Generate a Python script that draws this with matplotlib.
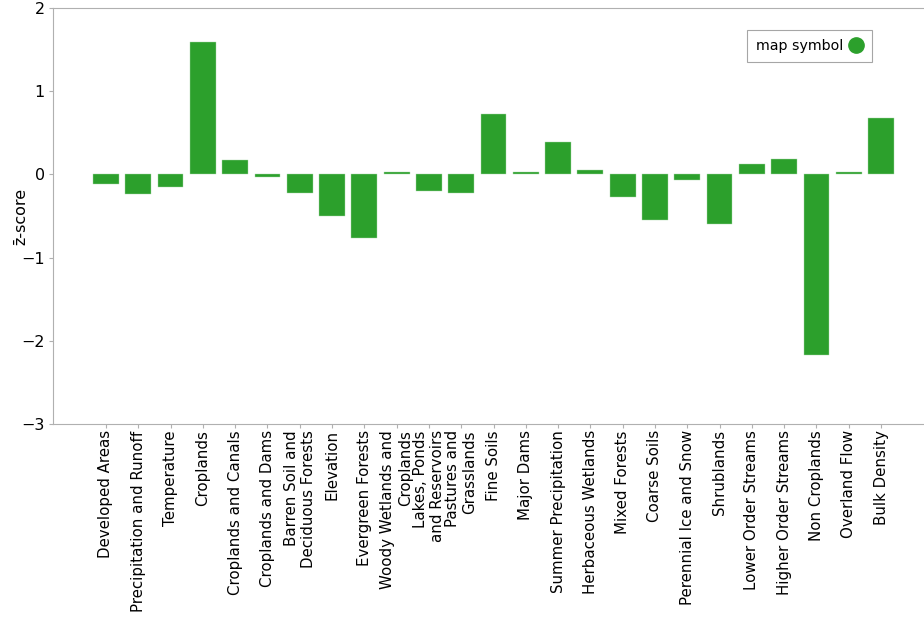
import numpy as np
import matplotlib
matplotlib.use("Agg")
import matplotlib.pyplot as plt
from matplotlib.lines import Line2D

labels = [
    "Developed Areas", "Precipitation and Runoff", "Temperature", "Croplands",
    "Croplands and Canals", "Croplands and Dams", "Barren Soil and\nDeciduous Forests",
    "Elevation", "Evergreen Forests", "Woody Wetlands and\nCroplands",
    "Lakes, Ponds\nand Reservoirs", "Pastures and\nGrasslands", "Fine Soils",
    "Major Dams", "Summer Precipitation", "Herbaceous Wetlands", "Mixed Forests",
    "Coarse Soils", "Perennial Ice and Snow", "Shrublands", "Lower Order Streams",
    "Higher Order Streams", "Non Croplands", "Overland Flow", "Bulk Density",
]
zscores = [
    -0.12, -0.23, -0.15, 1.59, 0.17, -0.03, -0.22, -0.50, -0.77, 0.025,
    -0.20, -0.22, 0.72, 0.025, 0.39, 0.05, -0.27, -0.55, -0.07, -0.60,
    0.12, 0.18, -2.17, 0.03, 0.68,
]

green = "#2ca02c"
spine_c = "#b0b0b0"

fig = plt.figure(figsize=(9.24, 6.17), dpi=100)
ax = fig.add_axes([53 / 924, 1 - 424 / 617, (924 - 53) / 924, (424 - 8) / 617])

x = np.arange(len(labels))
ax.bar(x, zscores, width=0.8, color=green, edgecolor="#a8d8a8", linewidth=0.3)

ax.set_xlim(-1.64, 25.33)
ax.set_ylim(-3, 2)
ax.set_yticks([-3, -2, -1, 0, 1, 2])
ax.set_xticks(x)
ax.set_xticklabels(labels, rotation=90, ha="center", va="top",
                   multialignment="right", fontsize=10.8)
ax.tick_params(axis="y", labelsize=11.5, length=3, color=spine_c, pad=3)
ax.tick_params(axis="x", length=3, color=spine_c, pad=1.5)
ax.set_ylabel("z\u0304-score", fontsize=11.5)
ax.yaxis.set_label_coords((28 - 53) / 871, 0.5)

for s in ["left", "top", "bottom"]:
    ax.spines[s].set_color(spine_c)
ax.spines["right"].set_visible(False)

handle = Line2D([], [], marker="o", linestyle="none", color=green, markersize=11)
leg = fig.legend([handle], ["map symbol"], loc="upper right",
                 bbox_to_anchor=(872 / 924, 1 - 30 / 617), borderaxespad=0,
                 markerfirst=False, fancybox=False, fontsize=10.2,
                 handlelength=0.9, handletextpad=0.45, borderpad=0.65)
leg.get_frame().set_edgecolor("#909090")
leg.get_frame().set_linewidth(0.8)

fig.savefig("out.png", dpi=100, facecolor="white")
